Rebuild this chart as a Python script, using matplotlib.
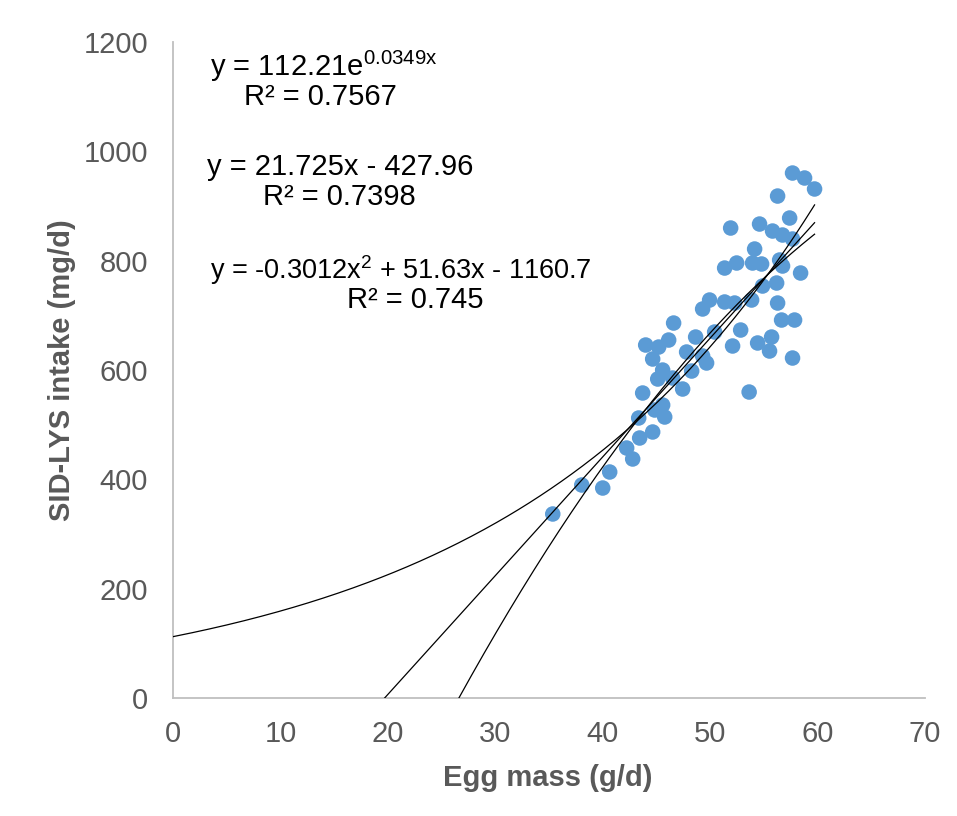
import numpy as np
import matplotlib
matplotlib.use("Agg")
import matplotlib.pyplot as plt

plt.rcParams['font.family'] = ['Liberation Sans', 'DejaVu Sans']
plt.rcParams['mathtext.fontset'] = 'custom'
plt.rcParams['mathtext.rm'] = 'Liberation Sans'
plt.rcParams['mathtext.it'] = 'Liberation Sans:italic'

# Data
egg_mass = [35.35, 38.05, 40.0, 40.65, 42.23, 42.79, 43.44, 44.65, 43.35, 45.77,
            44.84, 45.58, 43.72, 47.44, 45.12, 46.51, 45.58, 48.28, 44.65, 49.67,
            49.3, 47.81, 44.0, 45.21, 46.14, 46.6, 48.65, 50.42, 52.84, 52.09,
            49.3, 49.95, 51.35, 52.28, 53.86, 56.28, 56.65, 57.86, 54.42, 55.72,
            55.53, 57.67, 53.63, 51.35, 52.47, 53.95, 54.79, 56.47, 56.74, 58.42,
            54.88, 56.19, 54.14, 51.91, 54.6, 57.4, 55.81, 56.74, 57.67, 56.28,
            57.67, 58.79, 59.72]
lys_intake = [336.6, 389.6, 384.1, 413.4, 457.3, 437.2, 475.6, 486.6, 512.2, 514.0,
              526.8, 535.9, 557.9, 565.2, 583.5, 585.3, 599.9, 598.1, 620.1, 612.8,
              625.6, 632.9, 645.7, 642.0, 654.8, 685.9, 660.3, 669.5, 673.1, 643.9,
              711.6, 728.0, 724.4, 722.5, 728.0, 722.5, 691.4, 691.4, 649.4, 660.3,
              634.7, 621.9, 559.7, 786.5, 795.7, 795.7, 793.9, 801.2, 790.2, 777.4,
              753.6, 759.1, 821.3, 859.7, 867.0, 878.0, 854.2, 846.9, 839.6, 918.2,
              960.3, 951.2, 931.1]

# Trendline equations shown on the chart
exp_a, exp_b = 112.21, 0.0349
lin_m, lin_c = 21.725, -427.96
quad_a, quad_b, quad_c = -0.3012, 51.63, -1160.7

x_ticks = [0, 10, 20, 30, 40, 50, 60, 70]
y_ticks = [0, 200, 400, 600, 800, 1000, 1200]

fig = plt.figure(figsize=(9.57, 8.16), dpi=100)
ax = fig.add_axes([173/957, 1-698/816, 752/957, 656/816])

ax.scatter(egg_mass, lys_intake, s=125, color='#5B9BD5', edgecolors='none', zorder=2)

xmax = max(egg_mass)
xe = np.linspace(0, xmax, 300)
ax.plot(xe, exp_a*np.exp(exp_b*xe), color='black', lw=0.9, zorder=3)
x0_lin = -lin_c/lin_m
xl = np.linspace(x0_lin, xmax, 100)
ax.plot(xl, lin_m*xl + lin_c, color='black', lw=0.9, zorder=3)
disc = quad_b**2 - 4*quad_a*quad_c
r1 = (-quad_b + np.sqrt(disc))/(2*quad_a)
r2 = (-quad_b - np.sqrt(disc))/(2*quad_a)
x0_q = min(r1, r2)
xq = np.linspace(x0_q, xmax, 200)
ax.plot(xq, quad_a*xq**2 + quad_b*xq + quad_c, color='black', lw=0.9, zorder=3)

ax.set_xlim(0, 70)
ax.set_ylim(0, 1200)
ax.set_xticks(x_ticks)
ax.set_yticks(y_ticks)
ax.tick_params(length=0, labelsize=21, colors='#595959')
ax.tick_params(axis='x', pad=16)
ax.tick_params(axis='y', pad=18)
for s in ['top', 'right']:
    ax.spines[s].set_visible(False)
for s in ['left', 'bottom']:
    ax.spines[s].set_color('#BFBFBF')
    ax.spines[s].set_linewidth(1.3)

ax.set_xlabel('Egg mass (g/d)', fontsize=21, fontweight='bold', color='#595959',
              va='center', ha='center')
ax.set_ylabel('SID-LYS intake (mg/d)', fontsize=21, fontweight='bold', color='#595959',
              va='center', ha='center')
ax.xaxis.set_label_coords((548-173)/752, -(778-698)/656)
ax.yaxis.set_label_coords((62-173)/752, (698-370)/656)

def ftxt(px, py, s, size=21, **kw):
    fig.text(px/957, 1-py/816, s, fontsize=size, color='black', va='center', **kw)

ftxt(210, 66, r'y = 112.21e$^{\mathrm{0.0349x}}$', ha='left')
ftxt(320, 97, 'R² = 0.7567', ha='center')
ftxt(340, 167, 'y = 21.725x - 427.96', ha='center')
ftxt(339, 197, 'R² = 0.7398', ha='center')
ftxt(210, 270, r'y = -0.3012x$^{\mathrm{2}}$ + 51.63x - 1160.7', size=19.5, ha='left')
ftxt(415, 300, 'R² = 0.745', ha='center')

fig.savefig('out.png', dpi=100)
